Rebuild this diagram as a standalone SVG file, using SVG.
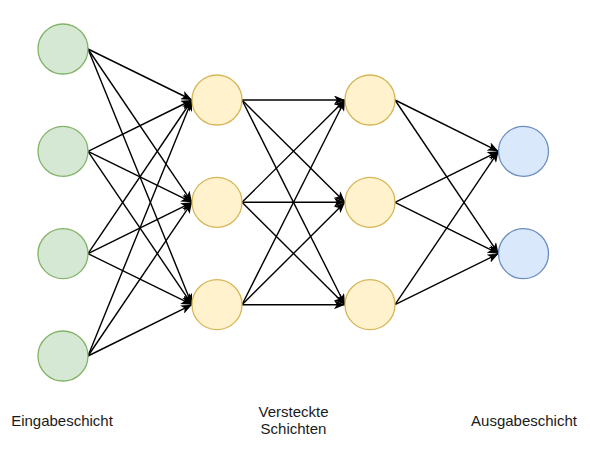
<svg xmlns="http://www.w3.org/2000/svg" width="590" height="452" viewBox="0 0 590 452">
<style>
.in{fill:#d5e8d4;stroke:#82b366;stroke-width:1.3}
.hid{fill:#fff2cc;stroke:#d6b656;stroke-width:1.3}
.out{fill:#dae8fc;stroke:#6c8ebf;stroke-width:1.3}
.e line{stroke:#000;stroke-width:1.4;fill:none;marker-end:url(#arr)}
text{font-family:"Liberation Sans",Arial,sans-serif;font-size:15px;fill:#1a1a1a;text-anchor:middle}
</style>
<defs>
<marker id="arr" viewBox="0 0 11 9" refX="11" refY="4.5" markerWidth="11" markerHeight="9" markerUnits="userSpaceOnUse" orient="auto">
<path d="M0,0 L11,4.5 L0,9 L2.8,4.5 Z" fill="#000"/>
</marker>
</defs>
<rect width="590" height="452" fill="#fff"/>
<g id="connectors" class="e">
<line x1="88" y1="49" x2="192" y2="100"/>
<line x1="88" y1="49" x2="192" y2="202.3"/>
<line x1="88" y1="49" x2="192" y2="304.7"/>
<line x1="88" y1="151.3" x2="192" y2="100"/>
<line x1="88" y1="151.3" x2="192" y2="202.3"/>
<line x1="88" y1="151.3" x2="192" y2="304.7"/>
<line x1="88" y1="253.7" x2="192" y2="100"/>
<line x1="88" y1="253.7" x2="192" y2="202.3"/>
<line x1="88" y1="253.7" x2="192" y2="304.7"/>
<line x1="88" y1="356" x2="192" y2="100"/>
<line x1="88" y1="356" x2="192" y2="202.3"/>
<line x1="88" y1="356" x2="192" y2="304.7"/>
<line x1="242" y1="100" x2="345" y2="100"/>
<line x1="242" y1="100" x2="345" y2="202.3"/>
<line x1="242" y1="100" x2="345" y2="304.7"/>
<line x1="242" y1="202.3" x2="345" y2="100"/>
<line x1="242" y1="202.3" x2="345" y2="202.3"/>
<line x1="242" y1="202.3" x2="345" y2="304.7"/>
<line x1="242" y1="304.7" x2="345" y2="100"/>
<line x1="242" y1="304.7" x2="345" y2="202.3"/>
<line x1="242" y1="304.7" x2="345" y2="304.7"/>
<line x1="395" y1="100" x2="498.5" y2="151.3"/>
<line x1="395" y1="100" x2="498.5" y2="253.7"/>
<line x1="395" y1="202.3" x2="498.5" y2="151.3"/>
<line x1="395" y1="202.3" x2="498.5" y2="253.7"/>
<line x1="395" y1="304.7" x2="498.5" y2="151.3"/>
<line x1="395" y1="304.7" x2="498.5" y2="253.7"/>
</g>
<g id="in1"><circle class="in" cx="63" cy="49" r="25"/></g>
<g id="in2"><circle class="in" cx="63" cy="151.3" r="25"/></g>
<g id="in3"><circle class="in" cx="63" cy="253.7" r="25"/></g>
<g id="in4"><circle class="in" cx="63" cy="356" r="25"/></g>
<g id="h1a"><circle class="hid" cx="217" cy="100" r="25"/></g>
<g id="h1b"><circle class="hid" cx="217" cy="202.3" r="25"/></g>
<g id="h1c"><circle class="hid" cx="217" cy="304.7" r="25"/></g>
<g id="h2a"><circle class="hid" cx="370" cy="100" r="25"/></g>
<g id="h2b"><circle class="hid" cx="370" cy="202.3" r="25"/></g>
<g id="h2c"><circle class="hid" cx="370" cy="304.7" r="25"/></g>
<g id="out1"><circle class="out" cx="523.5" cy="151.3" r="25"/></g>
<g id="out2"><circle class="out" cx="523.5" cy="253.7" r="25"/></g>
<g id="label-input"><text x="62" y="426">Eingabeschicht</text></g>
<g id="label-hidden"><text x="293.5" y="416.5">Versteckte</text><text x="293.5" y="434.3">Schichten</text></g>
<g id="label-output"><text x="524" y="426">Ausgabeschicht</text></g>
</svg>
